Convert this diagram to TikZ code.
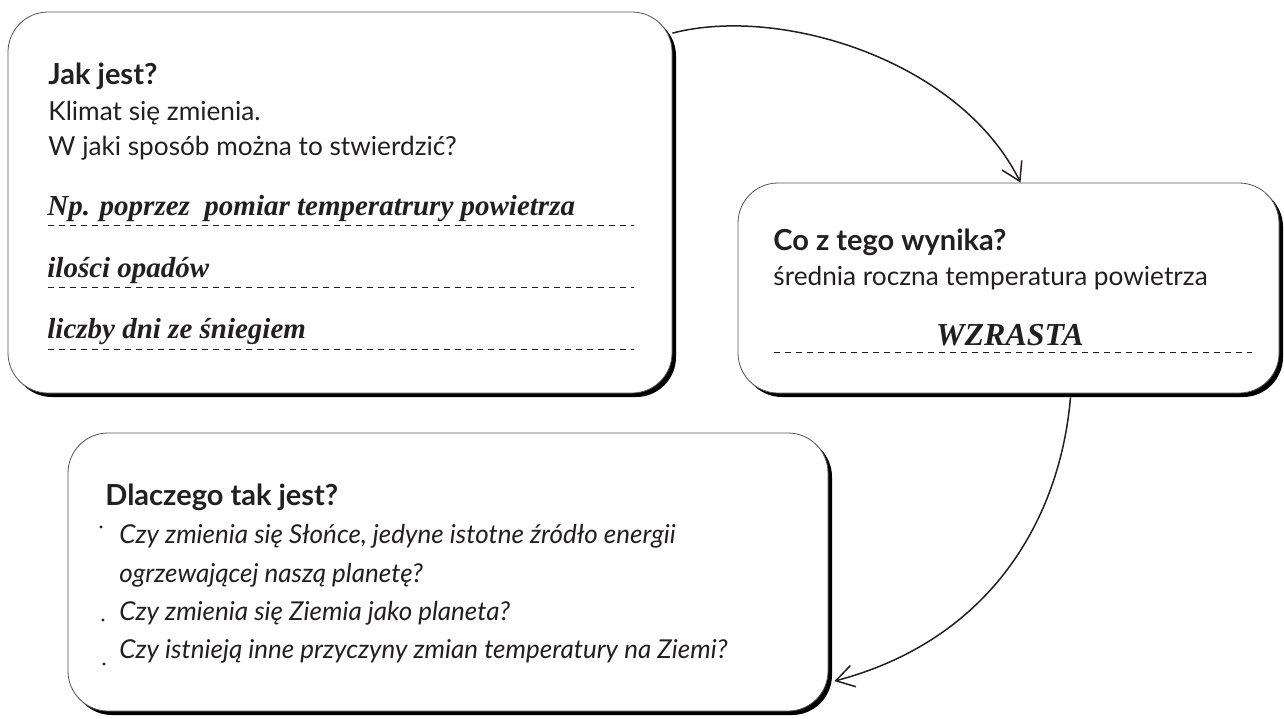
\documentclass[tikz,border=0pt]{standalone}
\usepackage{fontspec}
\setmainfont{Lato}
\newfontfamily\answerfont{Liberation Serif}
\usetikzlibrary{arrows.meta,positioning,shadows,calc}
\definecolor{kliInk}{HTML}{231F20}
\definecolor{kliFrame}{HTML}{555555}
\tikzset{
  kliArrow/.style={-{Straight Barb[length=9pt,width=11pt]}, line width=0.75pt, draw=kliInk},
  kliBox/.style={
    draw=kliFrame,
    fill=white,
    line width=0.4pt,
    rounded corners=20pt,
    drop shadow={shadow xshift=2pt, shadow yshift=-2pt, fill=black, opacity=1}
  },
  kliHead/.style={font=\bfseries\fontsize{14.5}{17}\selectfont, text=kliInk, inner sep=0pt},
  kliText/.style={font=\fontsize{13.1}{15}\selectfont, text=kliInk, inner sep=0pt},
  kliItem/.style={font=\itshape\fontsize{13}{15}\selectfont, text=kliInk, inner sep=0pt},
  kliAnswer/.style={font=\answerfont\bfseries\itshape\fontsize{14.5}{17}\selectfont, text=kliInk, inner sep=0pt},
  kliDash/.style={draw=kliInk, line width=0.4pt, dash pattern=on 3pt off 2.5pt}
}
\begin{document}
\begin{tikzpicture}[x=0.5pt, y=-0.5pt]
  \useasboundingbox (0,0) rectangle (1284,718);

  % boxes
  \node[kliBox, minimum width=332pt, minimum height=190.5pt] (jak) at (340,202.5) {};
  \node[kliBox, minimum width=270.5pt, minimum height=105pt] (co) at (1008.5,288) {};
  \node[kliBox, minimum width=380pt, minimum height=139pt] (dla) at (448,572) {};

  % Jak jest?
  \node[kliHead, anchor=base west] (jakHead) at (48,84) {Jak jest?};
  \node[kliText, anchor=base west] (jakLineA) at (48,120) {Klimat się zmienia.};
  \node[kliText, anchor=base west] (jakLineB) at (48,155) {W jaki sposób można to stwierdzić?};
  \node[kliAnswer, anchor=base west] (jakAnsA) at (47,215) {Np. poprzez\ \ pomiar temperatrury powietrza};
  \node[kliAnswer, anchor=base west] (jakAnsB) at (47,277) {ilości opadów};
  \node[kliAnswer, anchor=base west] (jakAnsC) at (47,338) {liczby dni ze śniegiem};
  \foreach \y in {225,287,349}
    \draw[kliDash] (48,\y) -- (634,\y);

  % Co z tego wynika?
  \node[kliHead, anchor=base west] (coHead) at (773,250) {Co z tego wynika?};
  \node[kliText, anchor=base west] (coLine) at (773,285) {średnia roczna temperatura powietrza};
  \node[kliAnswer, font=\answerfont\bfseries\itshape\fontsize{16}{18}\selectfont, anchor=base] (coAns) at (1010,345) {WZRASTA};
  \draw[kliDash] (774,352) -- (1252,352);

  % Dlaczego tak jest?
  \node[kliHead, anchor=base west] (dlaHead) at (105,505) {Dlaczego tak jest?};
  \node[kliItem, anchor=base west] (dlaItemA) at (119,543) {Czy zmienia się Słońce, jedyne istotne źródło energii};
  \node[kliItem, anchor=base west] (dlaItemAb) at (119,582) {ogrzewającej naszą planetę?};
  \node[kliItem, anchor=base west] (dlaItemB) at (119,620) {Czy zmienia się Ziemia jako planeta?};
  \node[kliItem, anchor=base west] (dlaItemC) at (119,658) {Czy istnieją inne przyczyny zmian temperatury na Ziemi?};
  \foreach \x/\y in {101/527,103/620,104/664}
    \fill[kliInk] (\x,\y) circle (0.8pt);

  % connectors
  \draw[kliArrow] (jak.27.5) .. controls (780,5) and (960,60) .. ([xshift=6pt]co.north);
  \draw[kliArrow] ([xshift=31pt, yshift=-2pt]co.south) .. controls (1060,520) and (990,640) .. ([xshift=3pt]dla.-16);
\end{tikzpicture}
\end{document}
